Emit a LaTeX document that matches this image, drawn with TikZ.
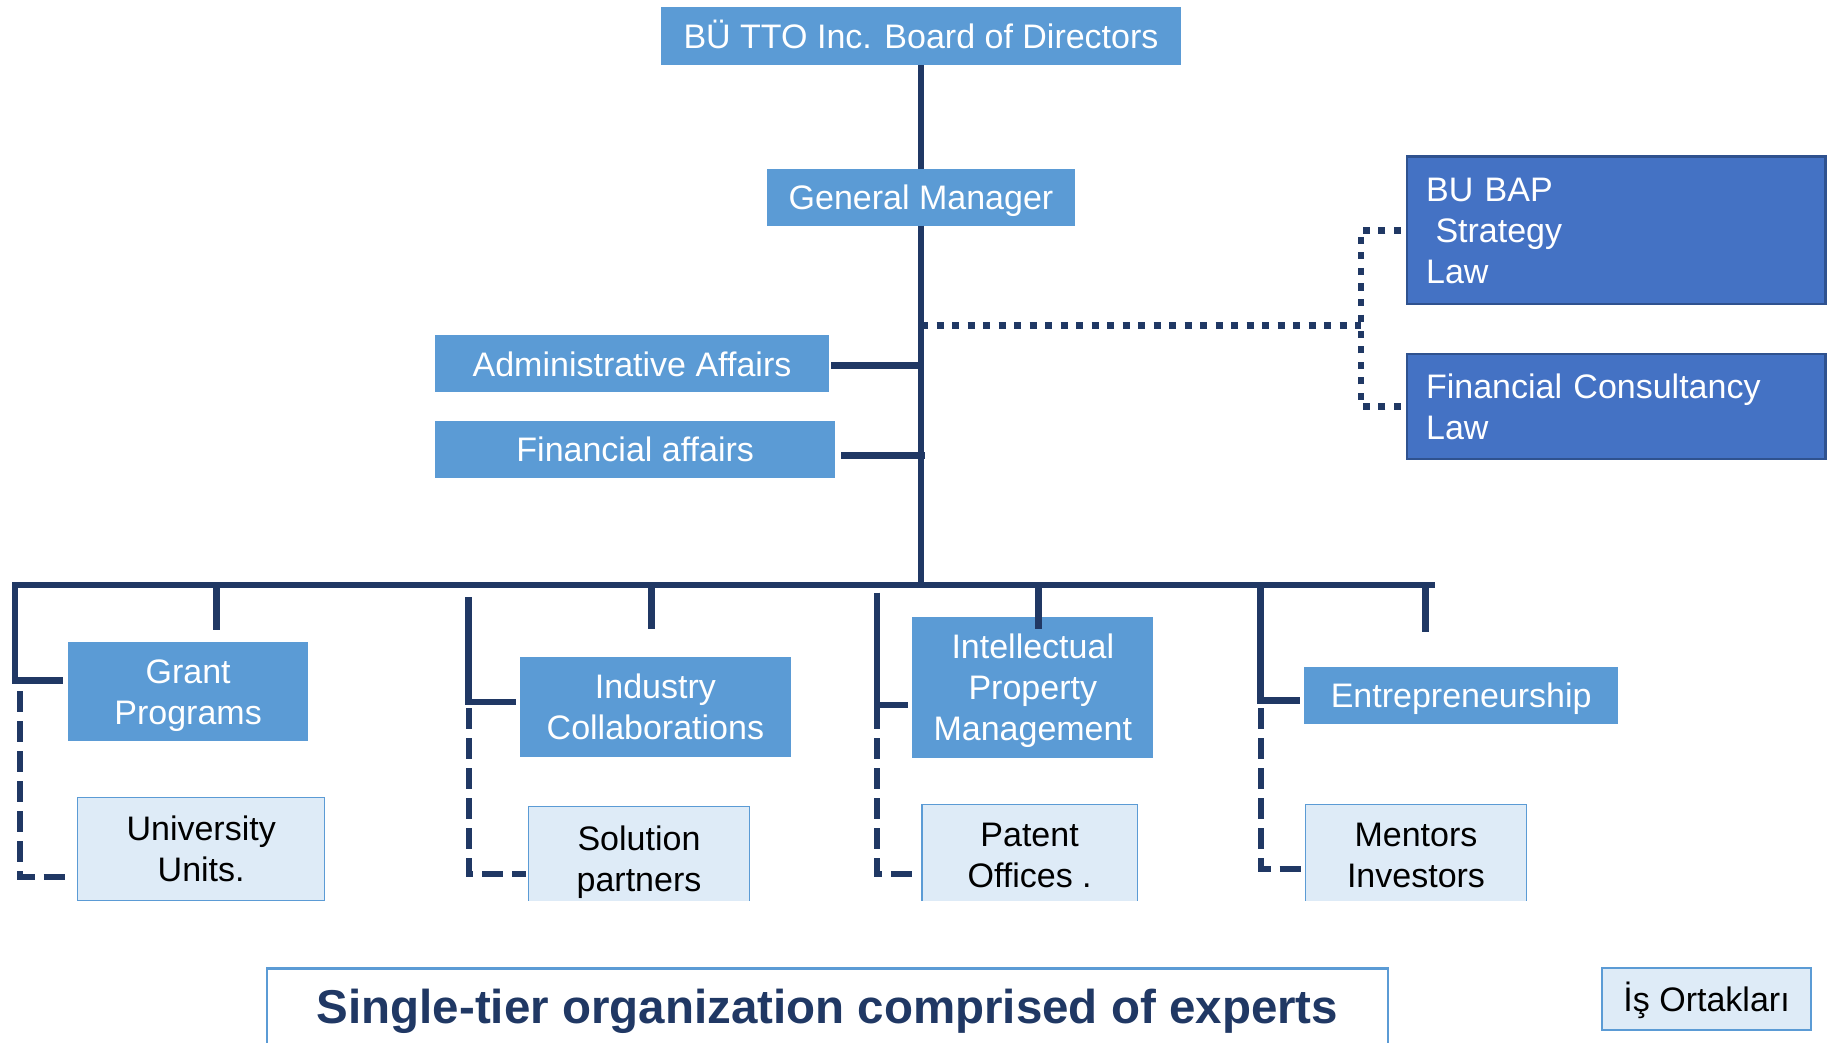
\documentclass[tikz,border=0pt]{standalone}
\usepackage{fontspec}
\setmainfont{Liberation Sans}
\definecolor{midblue}{HTML}{5B9BD5}
\definecolor{darkbox}{HTML}{4472C4}
\definecolor{darkedge}{HTML}{2F528F}
\definecolor{lightfill}{HTML}{DEEBF7}
\definecolor{navy}{HTML}{203864}
\begin{document}
\begin{tikzpicture}[x=1pt,y=-1pt,
  lbl/.style={rectangle, inner sep=0pt, outer sep=0pt, font=\fontsize{34}{41}\selectfont, align=center, text height=24.4pt, text depth=0pt},
  bluebox/.style={lbl, fill=midblue, text=white},
  darkbx/.style={lbl, fill=darkbox, draw=darkedge, line width=2.5pt, text=white, align=left, inner xsep=19.3pt, text width=380pt},
  lightbox/.style={lbl, fill=lightfill, draw=midblue, line width=1.5pt, text=black},
  trunk/.style={draw=navy, line width=6.5pt},
  dashln/.style={draw=navy, line width=6pt, dash pattern=on 21pt off 9pt},
  dotln/.style={draw=navy, line width=6.5pt, dash pattern=on 7pt off 8.5pt},
  two/.style={text height=65.4pt},
  three/.style={text height=106.4pt},
  wtwo/.style={text depth=41pt},
  wthree/.style={text depth=82pt}]
\useasboundingbox (0,0) rectangle (1832,1043);

% top boxes
\node[bluebox, minimum width=520.6pt, minimum height=58pt] (board) at (921,36.3) {BÜ TTO Inc. Board of Directors};
\node[bluebox, minimum width=308pt, minimum height=57pt] (gm) at (921,197.2) {General Manager};
\node[bluebox, minimum width=394pt, minimum height=57pt] (admin) at (632,363.8) {Administrative Affairs};
\node[bluebox, minimum width=400.3pt, minimum height=56.7pt] (fin) at (635.2,449.3) {Financial affairs};

\node[darkbx, wthree, minimum height=147.3pt] (bap) at (1616.1,230.3) {BU BAP\\\hspace*{9.4pt}Strategy\\Law};
\node[darkbx, wtwo, minimum height=105pt] (fc) at (1616.1,406.5) {Financial Consultancy\\Law};

% department boxes
\node[bluebox, two, minimum width=240.6pt, minimum height=99.3pt] (grant) at (188.1,691.3) {Grant\\Programs};
\node[bluebox, two, minimum width=271pt, minimum height=99.7pt] (ind) at (655.4,706.8) {Industry\\Collaborations};
\node[bluebox, three, minimum width=240.7pt, minimum height=141pt] (ip) at (1032.8,687.5) {Intellectual\\Property\\Management};
\node[bluebox, minimum width=313.6pt, minimum height=56.7pt] (ent) at (1461.2,695.3) {Entrepreneurship};

% partner boxes
\node[lightbox, two, minimum width=247pt, minimum height=102.6pt] (univ) at (201.2,849) {University\\Units.};
\begin{scope}
\clip (0,0) rectangle (1832,900.3);
\node[lightbox, two, minimum width=220.8pt, minimum height=103.6pt] (sol) at (639,858.5) {Solution\\partners};
\node[lightbox, two, minimum width=215.6pt, minimum height=101.8pt] (pat) at (1029.6,855.2) {Patent\\Offices .};
\node[lightbox, two, minimum width=220.8pt, minimum height=101.8pt] (men) at (1416,855.2) {Mentors\\Investors};
\end{scope}

% bottom
\node[lbl, fill=white, minimum width=1121pt, minimum height=75.4pt, text height=34pt, font=\fontsize{47.5}{50}\selectfont\bfseries, text=navy] (single) at (827.5,1006) {Single-tier organization comprised of experts};
\draw[midblue, line width=2.5pt] ([yshift=-20pt]single.south west) -- (single.north west) -- (single.north east) -- ([yshift=-20pt]single.south east);
\node[lightbox, line width=2pt, minimum width=209.6pt, minimum height=61.7pt] (isor) at (1706.6,999.2) {İş Ortakları};

% trunk
\coordinate (busL) at (15,585);
\coordinate (busR) at (1435.3,585);
\draw[trunk] (board.south) -- (gm.north);
\draw[trunk] (gm.south) -- (gm.south |- busL);
\coordinate (aj) at (921,365.7);
\draw[trunk] ([xshift=2pt,yshift=-1.9pt]admin.east) -- (aj);
\coordinate (fj) at (924.5,455.7);
\draw[trunk] ([xshift=5.7pt,yshift=-6.4pt]fin.east) -- (fj);

% dotted advisory links
\coordinate (gj) at (921,325.7);
\coordinate (dj) at (1361,325.7);
\draw[dotln] (gj) -- (dj);
\draw[dotln] ([xshift=-6pt]bap.west) -| (dj);
\draw[dotln] ([xshift=-6pt]fc.west) -| (dj);

% bus and grant column
\draw[trunk] ([xshift=-5pt,yshift=11pt]grant.west) -| (busL) -- (busR);
\coordinate (gd) at (19.5,691);
\draw[dashln] (gd) |- ([xshift=-7pt,yshift=-28pt]univ.west);

% stubs
\coordinate (s1) at (216.7,630);
\coordinate (s2) at (651.3,629.3);
\coordinate (s3) at (1038.7,628.7);
\coordinate (s4) at (1425.3,632);
\draw[trunk] (s1 |- busL) -- (s1);
\draw[trunk] (s2 |- busL) -- (s2);
\draw[trunk] (s3 |- busL) -- (s3);
\draw[trunk] (s4 |- busL) -- (s4);

% industry column
\coordinate (is) at (468.5,597);
\draw[trunk] (is) |- ([xshift=-4pt,yshift=4.8pt]ind.west);
\coordinate (id) at (468.5,708);
\draw[dashln] (id) |- ([xshift=-3pt,yshift=-15.8pt]sol.west);

% IP column
\coordinate (ips) at (876.8,592.7);
\draw[trunk] (ips) |- ([xshift=-4.5pt,yshift=-17.5pt]ip.west);
\coordinate (ipd) at (876.8,708);
\draw[dashln] (ipd) |- ([xshift=-4pt,yshift=-18.8pt]pat.west);

% entrepreneurship column
\coordinate (es) at (1260.6,585);
\draw[trunk] (es) |- ([xshift=-4.6pt,yshift=-5pt]ent.west);
\coordinate (ed) at (1260.6,708);
\draw[dashln] (ed) |- ([yshift=-13.8pt]men.west);
\end{tikzpicture}
\end{document}
